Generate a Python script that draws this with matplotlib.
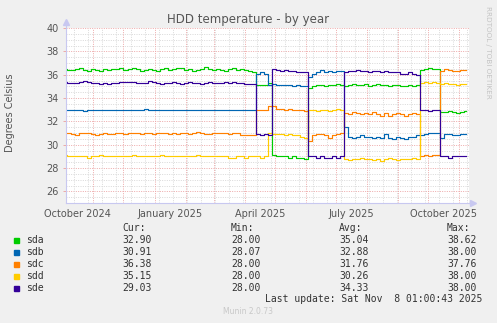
import numpy as np
import matplotlib
matplotlib.use("Agg")
import matplotlib.pyplot as plt
from matplotlib.patches import Rectangle

# sample dates: every 4 days from 2024-10-04 to 2025-11-08
dates = np.datetime64('2024-10-04') + np.arange(0, 401, 4).astype('timedelta64[D]')

sda = [36.5, 36.4, 36.4, 36.5, 36.6, 36.4, 36.3, 36.5, 36.4, 36.3, 36.5, 36.4,
       36.5, 36.5, 36.6, 36.4, 36.5, 36.6, 36.5, 36.3, 36.4, 36.5, 36.4, 36.3,
       36.5, 36.6, 36.4, 36.5, 36.6, 36.6, 36.4, 36.5, 36.3, 36.4, 36.5, 36.7,
       36.5, 36.4, 36.5, 36.4, 36.3, 36.5, 36.6, 36.4, 36.5, 36.4, 36.3, 36.2,
       35.1, 35.1, 35.1, 35.3,
       29.1, 29.0, 29.0, 29.0, 28.9, 29.0, 28.9, 28.9, 28.8,
       34.9, 35.0, 35.1, 35.1, 35.0, 35.1, 35.1, 35.2, 35.1,
       35.0, 35.1, 35.2, 35.1, 35.1, 35.2, 35.0, 35.1, 35.2, 35.1, 35.1, 35.0,
       35.1, 35.1, 35.0, 35.0, 35.1, 35.0, 35.1,
       36.4, 36.5, 36.6, 36.5, 36.5,
       32.8, 32.8, 32.9, 32.8, 32.7, 32.8, 32.9]

sdb = [33.0, 33.0, 33.0, 33.0, 33.0, 32.9, 33.0, 33.0, 33.0, 33.0, 33.0, 33.0,
       33.0, 33.0, 33.0, 33.0, 33.0, 33.0, 33.0, 33.0, 33.1, 33.0, 33.0, 33.0,
       33.0, 33.0, 33.0, 33.0, 33.0, 33.0, 33.0, 33.0, 33.0, 33.0, 33.0, 33.0,
       33.0, 33.0, 33.0, 33.0, 33.0, 33.0, 33.0, 33.0, 33.0, 33.0, 33.0, 33.0,
       36.1, 36.2, 36.1, 35.1,
       35.2, 35.1, 35.1, 35.1, 35.1, 35.0, 35.1, 35.0, 35.0,
       35.8, 36.1, 36.2, 36.4, 36.2, 36.3, 36.2, 36.3, 36.3,
       31.5, 30.7, 30.6, 30.7, 30.8, 30.7, 30.7, 30.6, 30.7, 30.6, 30.9, 30.6,
       30.5, 30.7, 30.6, 30.5, 30.7, 30.7, 30.8,
       30.8, 30.9, 31.0, 31.0, 31.0,
       30.6, 30.9, 30.9, 30.8, 30.8, 30.9, 30.9]

sdc = [31.0, 31.0, 30.9, 30.8, 31.0, 31.0, 31.0, 30.9, 30.8, 30.9, 31.0, 30.9,
       30.9, 31.0, 31.0, 30.9, 31.0, 31.0, 31.0, 30.9, 31.0, 31.0, 30.9, 31.0,
       31.0, 31.0, 30.9, 31.0, 30.9, 31.0, 31.0, 30.9, 31.0, 31.1, 31.0, 30.9,
       30.9, 31.0, 31.0, 31.0, 31.0, 30.9, 31.0, 31.0, 30.8, 30.8, 30.8, 30.8,
       33.0, 33.0, 33.0, 33.3,
       33.3, 33.1, 33.1, 33.0, 33.1, 33.0, 33.0, 33.0, 32.9,
       30.3, 30.8, 30.9, 30.9, 30.8, 30.6, 30.8, 30.9, 31.0,
       32.7, 32.6, 32.8, 32.7, 32.6, 32.7, 32.6, 32.8, 32.6, 32.5, 32.7, 32.5,
       32.6, 32.7, 32.6, 32.5, 32.6, 32.7, 32.6,
       29.0, 29.1, 29.0, 29.1, 29.1,
       36.3, 36.5, 36.4, 36.3, 36.3, 36.4, 36.4]

sdd = [29.1, 29.0, 29.0, 29.0, 29.0, 29.0, 28.9, 29.0, 29.0, 29.1, 29.0, 29.0,
       29.0, 29.0, 29.0, 29.0, 29.0, 29.1, 29.0, 29.0, 29.0, 29.0, 29.0, 29.0,
       29.1, 29.0, 29.0, 29.0, 29.0, 29.0, 29.0, 29.0, 29.0, 29.1, 29.0, 29.0,
       29.0, 29.0, 29.0, 29.0, 29.0, 28.9, 28.9, 29.0, 29.0, 28.9, 29.0, 29.0,
       29.0, 28.9, 29.0, 31.0,
       30.9, 30.9, 30.9, 30.8, 30.9, 30.8, 30.8, 30.7, 30.6,
       33.0, 33.0, 32.9, 33.0, 33.0, 32.9, 33.0, 33.1, 33.0,
       28.8, 28.7, 28.8, 28.8, 28.9, 28.8, 28.8, 28.7, 28.8, 28.6, 28.8, 28.9,
       28.8, 28.7, 28.8, 28.8, 28.8, 28.9, 28.8,
       35.3, 35.4, 35.3, 35.4, 35.3,
       35.2, 35.3, 35.2, 35.2, 35.1, 35.2, 35.2]

sde = [35.4, 35.3, 35.3, 35.3, 35.4, 35.5, 35.4, 35.3, 35.3, 35.2, 35.3, 35.2,
       35.3, 35.3, 35.4, 35.4, 35.4, 35.4, 35.3, 35.3, 35.3, 35.5, 35.4, 35.3,
       35.2, 35.3, 35.3, 35.4, 35.3, 35.2, 35.3, 35.4, 35.3, 35.3, 35.2, 35.3,
       35.4, 35.3, 35.3, 35.3, 35.4, 35.3, 35.4, 35.3, 35.3, 35.2, 35.2, 35.2,
       30.9, 30.8, 30.9, 30.8,
       36.5, 36.4, 36.3, 36.4, 36.3, 36.3, 36.2, 36.2, 36.2,
       29.0, 29.0, 28.9, 29.0, 28.9, 28.9, 29.0, 28.9, 29.0,
       36.2, 36.3, 36.3, 36.4, 36.3, 36.3, 36.2, 36.3, 36.3, 36.2, 36.3, 36.2,
       36.2, 36.2, 36.1, 36.1, 36.2, 36.1, 36.0,
       33.0, 33.0, 32.9, 33.0, 33.0,
       29.0, 29.0, 28.9, 29.0, 29.0, 29.0, 29.0]

names = ['sda', 'sdb', 'sdc', 'sdd', 'sde']
colors = ['#00CC00', '#0066B3', '#FF8000', '#FFCC00', '#330099']
cur = ['32.90', '30.91', '36.38', '35.15', '29.03']
mins = ['28.00', '28.07', '28.00', '28.00', '28.00']
avgs = ['35.04', '32.88', '31.76', '30.26', '34.33']
maxs = ['38.62', '38.00', '37.76', '38.00', '38.00']

xtick_dates = ['2024-10-16', '2025-01-16', '2025-04-16', '2025-07-16', '2025-10-16']
xtick_labels = ['October 2024', 'January 2025', 'April 2025', 'July 2025', 'October 2025']

W, H = 497, 323
bg = '#F0F0F0'
txt = '#555555'


def fx(x):
    return x / W


def fy(y):
    return 1 - y / H


fig = plt.figure(figsize=(W / 100, H / 100), dpi=100, facecolor=bg)
ax = fig.add_axes([fx(66), fy(203), (469 - 66) / W, (203 - 28) / H])
ax.set_facecolor('white')

x0 = np.datetime64('2024-10-04T16:00')
x1 = np.datetime64('2025-11-10T12:00')
ax.set_xlim(x0, x1)
ax.set_ylim(25, 40)

# grid: minor gray, major red, dotted like rrdtool
dot = (0, (1, 1.4))
for v in np.arange(25.5, 40.01, 0.5):
    if v % 2 != 0:
        ax.axhline(v, color='#d8d8d8', lw=0.7, ls=dot, zorder=0)
for v in range(26, 41, 2):
    ax.axhline(v, color='#eda8a8', lw=0.7, ls=dot, zorder=0)
for d in np.arange(np.datetime64('2024-10-13'), np.datetime64('2025-11-10'), np.timedelta64(14, 'D')):
    ax.axvline(d, color='#d8d8d8', lw=0.7, ls=dot, zorder=0)
for d in np.arange(np.datetime64('2024-11'), np.datetime64('2025-12'), np.timedelta64(1, 'M')):
    ax.axvline(d.astype('datetime64[D]'), color='#eda8a8', lw=0.7, ls=dot, zorder=0)

for vals, c in zip([sda, sdb, sdc, sdd, sde], colors):
    ax.plot(dates, vals, color=c, lw=0.85, drawstyle='steps-mid', zorder=2)

for s in ['top', 'right']:
    ax.spines[s].set_visible(False)
for s in ['left', 'bottom']:
    ax.spines[s].set_color('#c8c8f0')
    ax.spines[s].set_linewidth(0.8)

# axis arrows
ax.plot([0, 0], [1, 1.035], color='#c8c8f0', lw=0.8, transform=ax.transAxes, clip_on=False)
ax.plot(0, 1.035, marker='^', ms=4, color='#c8c8f0', transform=ax.transAxes, clip_on=False)
ax.plot([1, 1.01], [0, 0], color='#c8c8f0', lw=0.8, transform=ax.transAxes, clip_on=False)
ax.plot(1.01, 0, marker='>', ms=4, color='#c8c8f0', transform=ax.transAxes, clip_on=False)

ax.set_yticks(range(26, 41, 2))
ax.tick_params(axis='y', length=2.5, width=0.7, color='#eda8a8', labelsize=7,
               labelcolor=txt, pad=2.5)
ax.set_xticks([np.datetime64(d) for d in xtick_dates])
ax.set_xticklabels(xtick_labels)
ax.tick_params(axis='x', length=0, labelsize=7, labelcolor=txt, pad=4)

fig.text(fx(248), fy(20), 'HDD temperature - by year', ha='center', va='center',
         fontsize=8.5, color='#555555')
fig.text(fx(10), fy(113), 'Degrees Celsius', rotation=90, ha='center', va='center',
         fontsize=7, color=txt)
fig.text(fx(488), fy(52), 'RRDTOOL / TOBI OETIKER', rotation=270, ha='center',
         va='center', fontsize=5.2, color='#c4c4c4')

# legend block
mono = dict(family='DejaVu Sans Mono', fontsize=7, color='#333333', va='center')
cols = [122, 231, 339, 447]
for x, h in zip(cols, ['Cur:', 'Min:', 'Avg:', 'Max:']):
    fig.text(fx(x), fy(228), h, **mono)
row_y = [240, 252, 264, 276, 288]
for i, n in enumerate(names):
    y = row_y[i]
    fig.patches.append(Rectangle((fx(14), fy(y + 2.5)), 5 / W, 5 / H,
                                 transform=fig.transFigure, color=colors[i]))
    fig.text(fx(26), fy(y), n, **mono)
    for x, v in zip(cols, [cur[i], mins[i], avgs[i], maxs[i]]):
        fig.text(fx(x), fy(y), v, **mono)
fig.text(fx(482), fy(299.5), 'Last update: Sat Nov  8 01:00:43 2025', ha='right', **mono)
fig.text(fx(248), fy(312), 'Munin 2.0.73', ha='center', va='center', fontsize=5.5,
         color='#c8c8c8')

fig.savefig('out.png', dpi=100, facecolor=bg)
